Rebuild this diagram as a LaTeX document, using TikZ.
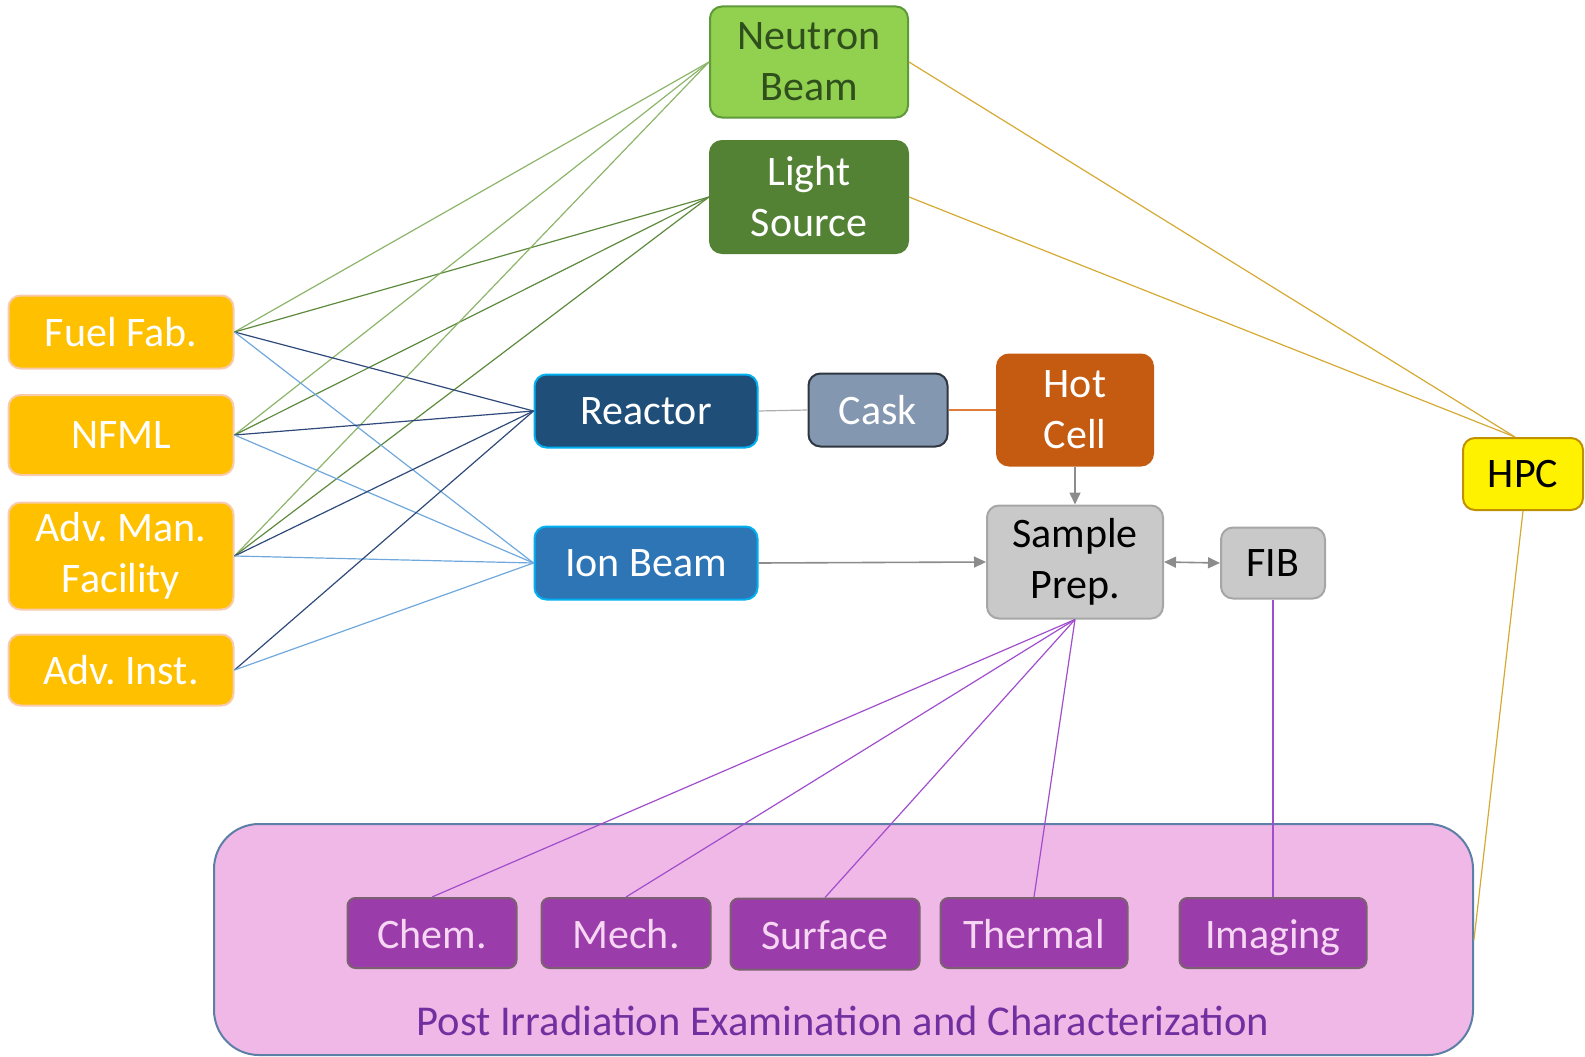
\documentclass[tikz,border=0pt]{standalone}
\usepackage{fontspec}
\setmainfont{Carlito}
\usetikzlibrary{arrows.meta}
\frenchspacing
\definecolor{fabfill}{HTML}{FFC000}
\definecolor{fabdraw}{HTML}{F8CBAD}
\definecolor{nbfill}{HTML}{92D050}
\definecolor{nbdraw}{HTML}{5E9A3A}
\definecolor{nbtext}{HTML}{2F4F1C}
\definecolor{lsfill}{HTML}{548235}
\definecolor{rxfill}{HTML}{1F4E79}
\definecolor{ibfill}{HTML}{2E75B6}
\definecolor{cyanb}{HTML}{00B0F0}
\definecolor{caskfill}{HTML}{8497B0}
\definecolor{caskdraw}{HTML}{2F3640}
\definecolor{hotfill}{HTML}{C55A11}
\definecolor{grayfill}{HTML}{C9C9C9}
\definecolor{graydraw}{HTML}{A6A6A6}
\definecolor{hpcdraw}{HTML}{BF9000}
\definecolor{piefill}{HTML}{F0B8E6}
\definecolor{piedraw}{HTML}{5B7FA6}
\definecolor{pielabel}{HTML}{7030A0}
\definecolor{purfill}{HTML}{9B3CAB}
\definecolor{purdraw}{HTML}{7A6070}
\definecolor{purtext}{HTML}{F6D6F2}
\definecolor{nbline}{HTML}{8DB56A}
\definecolor{lsline}{HTML}{5E8A3E}
\definecolor{rxline}{HTML}{2F4A7A}
\definecolor{ibline}{HTML}{6FA8DC}
\definecolor{goldline}{HTML}{D6A933}
\definecolor{purline}{HTML}{A04ECC}
\definecolor{grayline}{HTML}{8C8C8C}
\definecolor{orangeline}{HTML}{E07B39}
\tikzset{
  box/.style={draw, rounded corners=12pt, line width=2pt, align=center, inner sep=0pt,
    font=\fontsize{42}{51}\selectfont},
  srcbox/.style={box, fill=fabfill, draw=fabdraw, text=white, minimum width=225pt},
  grbox/.style={box, fill=grayfill, draw=graydraw, text=black},
  purbox/.style={box, fill=purfill, draw=purdraw, text=purtext, rounded corners=8pt, minimum height=70pt,
    text height=30pt, text depth=0pt},
  conn/.style={line width=1.2pt},
  grayarrow/.style={line width=1.6pt, draw=grayline, -{Triangle[length=12pt,width=11pt]}},
}
\begin{document}
\begin{tikzpicture}[x=1pt,y=-1pt]
\useasboundingbox (0,0) rectangle (1585,1057);
% PIE container
\node[draw=piedraw, fill=piefill, line width=2pt, rounded corners=45pt, minimum width=1259pt, minimum height=231pt, inner sep=0pt] (pie) at (843.5,939.5) {};
\node[text=pielabel, font=\fontsize{42.5}{51}\selectfont] (pielbl) at (843,1021) {Post Irradiation Examination and Characterization};
% source nodes
\node[srcbox, minimum height=73pt] (fuel) at (121,332) {Fuel Fab.};
\node[srcbox, minimum height=80pt] (nfml) at (121,435) {NFML};
\node[srcbox, minimum height=107pt] (advman) at (121,556) {Adv. Man.\\Facility};
\node[srcbox, minimum height=71pt] (advinst) at (121,670) {Adv. Inst.};
% beams
\node[box, fill=nbfill, draw=nbdraw, text=nbtext, minimum width=198pt, minimum height=111pt] (neutron) at (809,62) {Neutron\\Beam};
\node[box, fill=lsfill, draw=lsfill, text=white, minimum width=198pt, minimum height=112pt] (light) at (809,197) {Light\\Source};
\node[box, fill=rxfill, draw=cyanb, text=white, minimum width=223pt, minimum height=73pt] (reactor) at (646,411) {Reactor};
\node[box, fill=ibfill, draw=cyanb, text=white, minimum width=223pt, minimum height=73pt] (ion) at (646,563) {Ion Beam};
\node[box, fill=caskfill, draw=caskdraw, text=white, minimum width=139pt, minimum height=73pt] (cask) at (878,410) {Cask};
\node[box, fill=hotfill, draw=hotfill, text=white, minimum width=156pt, minimum height=111pt] (hot) at (1075,410) {Hot\\Cell};
\node[grbox, minimum width=176pt, minimum height=113pt] (sample) at (1075,562) {Sample\\Prep.};
\node[grbox, minimum width=104pt, minimum height=71pt] (fib) at (1273,563) {FIB};
\node[box, fill=yellow, draw=hpcdraw, text=black, minimum width=120pt, minimum height=72pt] (hpc) at (1523,474) {HPC};
% PIE boxes
\node[purbox, minimum width=169pt] (chem) at (432,933) {Chem.};
\node[purbox, minimum width=169pt] (mech) at (626,933) {Mech.};
\node[purbox, minimum width=189pt, minimum height=71pt] (surface) at (825,934) {Surface};
\node[purbox, minimum width=187pt] (thermal) at (1034,933) {Thermal};
\node[purbox, minimum width=187pt] (imaging) at (1273,933) {Imaging};
% connectors from sources
\foreach \s in {fuel,nfml,advman}{
  \draw[conn, nbline] (\s.east) -- (neutron.west);
  \draw[conn, lsline] (\s.east) -- (light.west);
}
\foreach \s in {fuel,nfml,advman,advinst}{
  \draw[conn, rxline] (\s.east) -- (reactor.west);
  \draw[conn, ibline] (\s.east) -- (ion.west);
}
% chain
\draw[conn, grayline!70] (reactor.east) -- (cask.west);
\draw[conn, orangeline] (cask.east) -- (hot.west);
\draw[grayarrow] (hot.south) -- (sample.north);
\draw[grayarrow] (ion.east) -- (sample.west);
\draw[line width=1.6pt, draw=grayline, {Triangle[length=12pt,width=11pt]}-{Triangle[length=12pt,width=11pt]}] (sample.east) -- (fib.west);
% HPC
\draw[conn, goldline] (neutron.east) -- ([xshift=-8pt]hpc.north);
\draw[conn, goldline] (light.east) -- ([xshift=-8pt]hpc.north);
\draw[conn, goldline] (hpc.south) -- (pie.east);
% PIE links
\foreach \t in {chem,mech,surface,thermal}{
  \draw[conn, purline] (sample.south) -- (\t.north);
}
\draw[conn, purline] (fib.south) -- (imaging.north);
\end{tikzpicture}
\end{document}
